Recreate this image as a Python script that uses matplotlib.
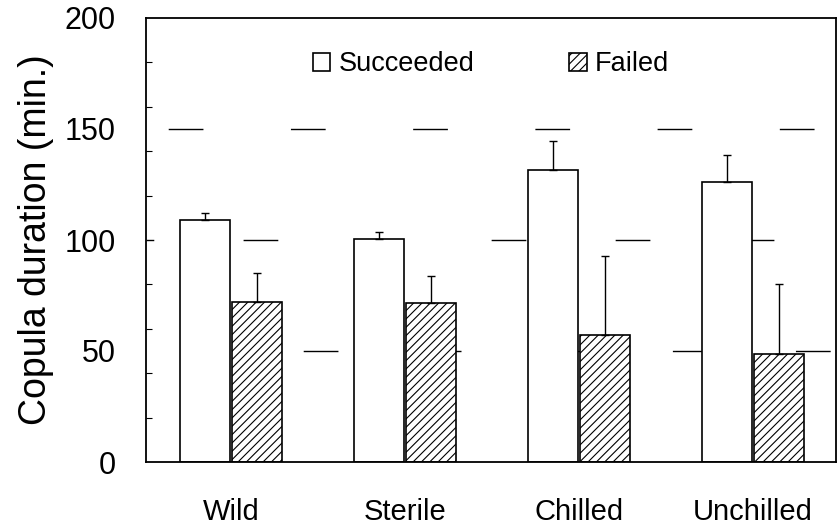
import matplotlib
matplotlib.use("Agg")
import matplotlib.pyplot as plt
import numpy as np

plt.rcParams['font.family'] = ['Liberation Sans', 'DejaVu Sans']
plt.rcParams['hatch.linewidth'] = 0.8

# data
groups = ["Wild", "Sterile", "Chilled", "Unchilled"]
succeeded = [109, 100.5, 131.5, 126]
succeeded_err = [3, 3, 13, 12.5]
failed = [72, 71.5, 57, 48.5]
failed_err = [13, 12.5, 36, 31.5]

fig = plt.figure(figsize=(8.38, 5.27), dpi=100)
ax = fig.add_axes([146 / 838, 65 / 527, 690 / 838, 444 / 527])

x = np.arange(len(groups))
w = 0.29

# broken horizontal grid lines (scanned look), each row its own phase
for yv, ls in [(50, (64, (25, 63.6))),
               (100, (19.4, (25, 64.3))),
               (150, (72, (25, 63)))]:
    ax.axhline(yv, color="black", lw=1, zorder=1, linestyle=ls)

ax.bar(x - 0.15, succeeded, w, color="white", edgecolor="black",
       linewidth=1.2, label="Succeeded", zorder=2)
ax.bar(x + 0.15, failed, w, color="white", edgecolor="black",
       linewidth=1.2, hatch="////", label="Failed", zorder=2)

ax.errorbar(x - 0.15, succeeded, yerr=[np.zeros(4), succeeded_err],
            fmt="none", ecolor="black", elinewidth=1, capsize=3, zorder=3)
ax.errorbar(x + 0.15, failed, yerr=[np.zeros(4), failed_err],
            fmt="none", ecolor="black", elinewidth=1, capsize=3, zorder=3)

ax.set_xlim(-0.489, 3.477)
ax.set_ylim(0, 200)
ax.set_yticks([0, 50, 100, 150, 200])
ax.set_yticks(np.arange(20, 200, 20), minor=True)
ax.tick_params(axis="y", which="major", length=0, pad=22, labelsize=22)
ax.tick_params(axis="y", which="minor", direction="in", length=4, width=0.8)
ax.set_xticks(x)
ax.set_xticklabels(groups)
ax.tick_params(axis="x", length=0, pad=26, labelsize=21)

ax.set_ylabel("Copula duration (min.)", fontsize=27, labelpad=7)

for s in ax.spines.values():
    s.set_linewidth(1.3)

ax.legend(loc="upper center", bbox_to_anchor=(0.5, 0.98), ncol=2,
          frameon=False, fontsize=19.5, handlelength=0.65, handleheight=0.65,
          handletextpad=0.3, columnspacing=3.5)

fig.savefig("out.png", dpi=100)
